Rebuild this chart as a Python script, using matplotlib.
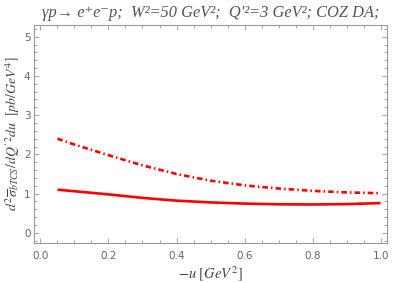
import matplotlib
matplotlib.use("Agg")
import matplotlib.pyplot as plt
from matplotlib.ticker import MultipleLocator
import numpy as np

# Data
u_vals = [0.05, 0.1, 0.2, 0.3, 0.4, 0.5, 0.6, 0.7, 0.8, 0.9, 1.0]
solid_vals = [1.10, 1.06, 0.98, 0.89, 0.82, 0.775, 0.745, 0.727, 0.722, 0.732, 0.758]
dashdot_vals = [2.40, 2.25, 1.98, 1.72, 1.50, 1.33, 1.21, 1.13, 1.07, 1.03, 1.01]

title_text = "γp→ e⁺e⁻p;  W²=50 GeV²;  Q'²=3 GeV²; COZ DA;"
xlabel_text = r"$-u\ [GeV^2]$"
ylabel_text = r"$d^2\overline{\sigma}_{bTCS}/dQ'^2du\ \ [pb/GeV^4]$"

plt.rcParams['mathtext.fontset'] = 'stix'
plt.rcParams['lines.scale_dashes'] = False

fig = plt.figure(figsize=(4.07, 2.83), dpi=100)
ax = fig.add_axes([34/407, 1-243/283, (386.7-34)/407, (243-25)/283])

red = '#ff0000'
ax.plot(u_vals, solid_vals, color=red, lw=1.9, solid_capstyle='butt')
ax.plot(u_vals, dashdot_vals, color=red, lw=1.9, dashes=(4.0, 2.2, 1.1, 2.2))

ax.xaxis.set_major_locator(MultipleLocator(0.2))
ax.xaxis.set_minor_locator(MultipleLocator(0.05))
ax.yaxis.set_major_locator(MultipleLocator(1))
ax.yaxis.set_minor_locator(MultipleLocator(0.2))

gray = '#999999'
for s in ax.spines.values():
    s.set_color(gray)
    s.set_linewidth(0.8)
ax.tick_params(which='both', direction='in', top=True, right=True, color=gray,
               labelcolor='#666666', labelsize=7.5, width=0.6)
ax.tick_params(which='major', length=3.5)
ax.tick_params(which='minor', length=2)
ax.tick_params(axis='x', which='major', pad=6)
ax.tick_params(axis='y', which='major', pad=2.5)
ax.set_xticks([0.0, 0.2, 0.4, 0.6, 0.8, 1.0])
ax.set_xticklabels(["0.0", "0.2", "0.4", "0.6", "0.8", "1.0"])
ax.set_yticks([0, 1, 2, 3, 4, 5])
ax.set_yticklabels(["0", "1", "2", "3", "4", "5"])
ax.set_xlim(-0.019, 1.018)
ax.set_ylim(-0.26, 5.3)

ax.set_title(title_text, family=['Liberation Serif', 'DejaVu Serif'], style='italic',
             fontsize=11.8, color='#555555', pad=6)
ax.set_xlabel(xlabel_text, fontsize=10.5, color='#444444', labelpad=2)
ax.set_ylabel(ylabel_text, fontsize=10, color='#444444')
ax.yaxis.set_label_coords(-0.034, 0.5)

fig.savefig("out.png", dpi=100)
